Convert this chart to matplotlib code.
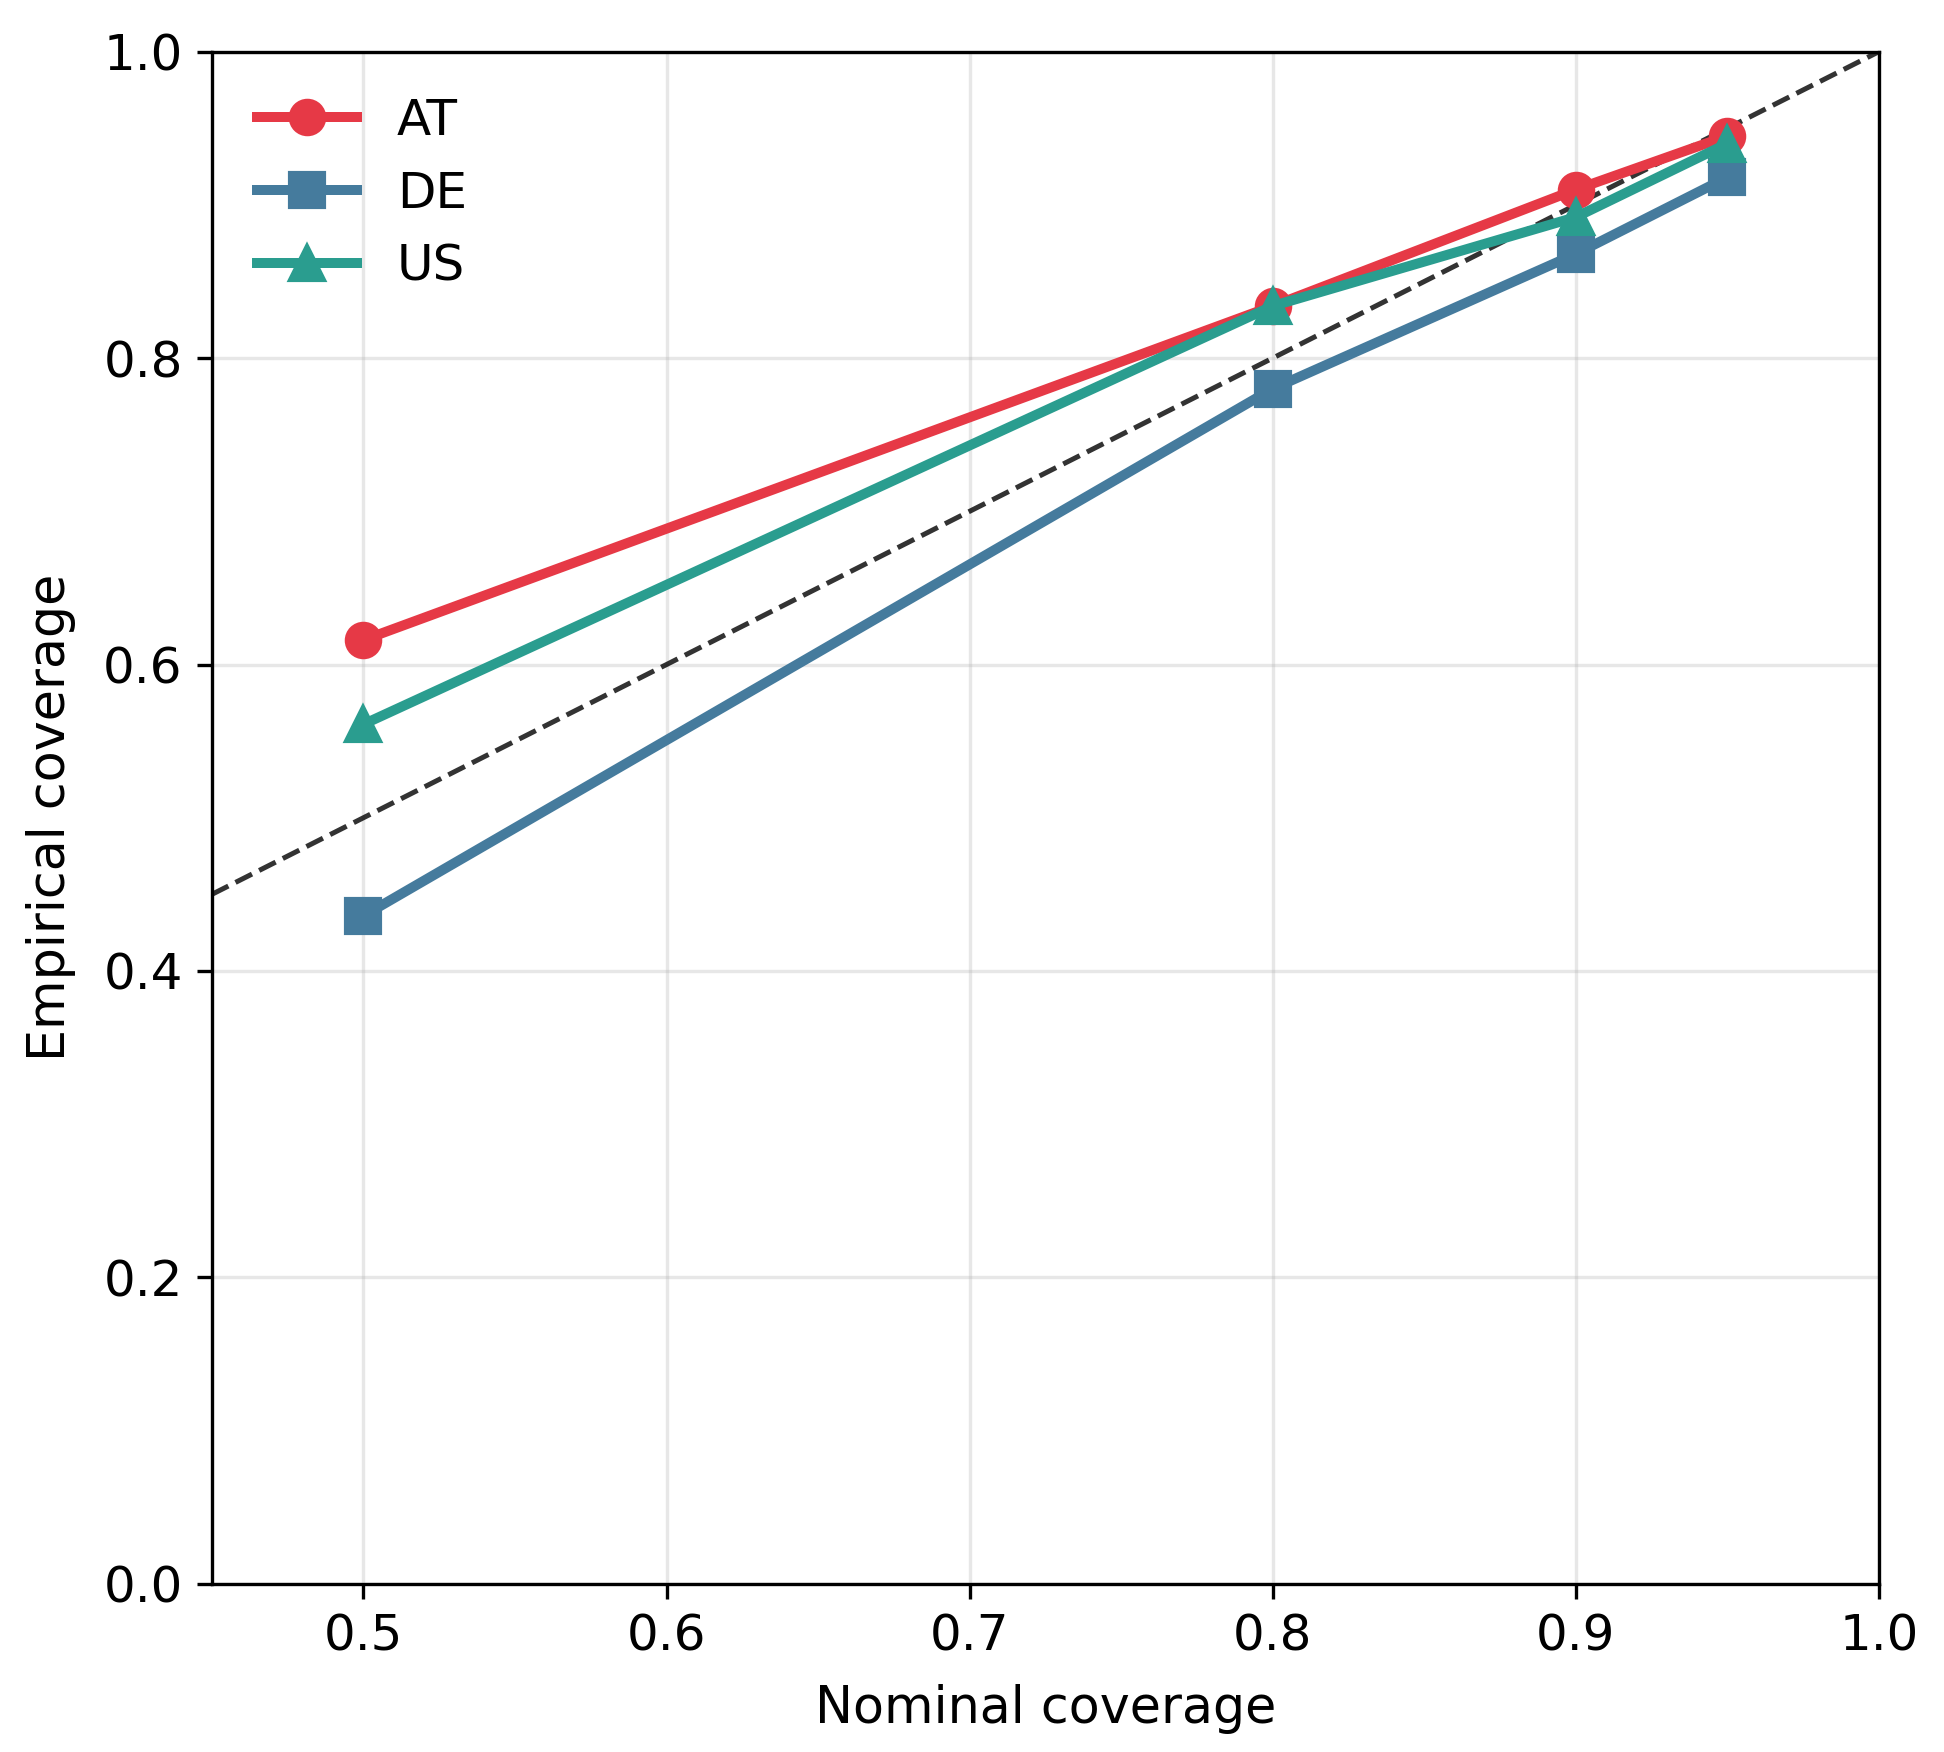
import matplotlib
matplotlib.use("Agg")
import matplotlib.pyplot as plt

nominal = [0.5, 0.8, 0.9, 0.95]
at_cov = [0.616, 0.834, 0.910, 0.945]
de_cov = [0.436, 0.780, 0.868, 0.918]
us_cov = [0.561, 0.834, 0.892, 0.940]

fig = plt.figure(figsize=(6.48, 5.84), dpi=300)
ax = fig.add_axes([0.109, 0.096, 0.8575, 0.8745])

ax.plot([0, 1], [0, 1], "k--", lw=1.2, alpha=0.8)
ax.plot(nominal, at_cov, "-o", color="#E63946", lw=2.4, ms=8, label="AT")
ax.plot(nominal, de_cov, "-s", color="#457B9D", lw=2.4, ms=8, label="DE")
ax.plot(nominal, us_cov, "-^", color="#2A9D8F", lw=2.4, ms=8, label="US")

ax.set_xlim(0.45, 1.0)
ax.set_ylim(0, 1.0)
ax.set_xlabel("Nominal coverage", fontsize=12.2, labelpad=5.5)
ax.set_ylabel("Empirical coverage", fontsize=12.2, labelpad=6.5)
ax.tick_params(labelsize=12)
ax.grid(True, alpha=0.3)
ax.legend(loc="upper left", frameon=False, fontsize=12)

fig.savefig("out.png", dpi=300)
